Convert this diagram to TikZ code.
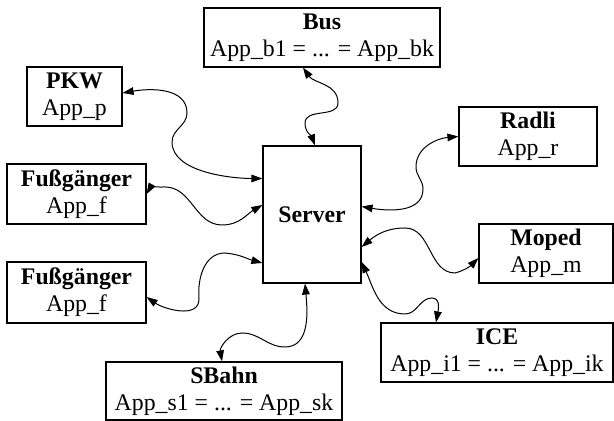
\documentclass[tikz,border=0pt]{standalone}
\usepackage{fontspec}
\setmainfont{Liberation Serif}
\usetikzlibrary{arrows.meta}

\begin{document}
\begin{tikzpicture}[
    x=0.5pt, y=0.5pt,
    box/.style={rectangle, draw, line width=0.6pt, minimum height=29.5pt, inner sep=1pt, align=center, font=\fontsize{11.9}{13.6}\selectfont},
    link/.style={{Triangle[length=5.5pt,width=3.8pt]}-{Triangle[length=5.5pt,width=3.8pt]}, line width=0.5pt}
]
\useasboundingbox (0,0) rectangle (614,421);

\node[box, minimum width=49pt, minimum height=68.5pt] (server) at (312,206.5) {\textbf{Server}};

\node[box, minimum width=118pt] (bus) at (322,383.5) {\textbf{Bus}\\App\_b1 = ... = App\_bk};
\node[box, minimum width=47.5pt] (pkw) at (74.5,324.5) {\textbf{PKW}\\App\_p};
\node[box, minimum width=69pt] (radli) at (528,284.5) {\textbf{Radli}\\App\_r};
\node[box, minimum width=69.5pt, minimum height=30pt] (fuss1) at (76.5,227) {\textbf{Fußgänger}\\App\_f};
\node[box, minimum width=67pt] (moped) at (546,167.5) {\textbf{Moped}\\App\_m};
\node[box, minimum width=69.5pt, minimum height=30.5pt] (fuss2) at (76.5,128.5) {\textbf{Fußgänger}\\App\_f};
\node[box, minimum width=116pt] (ice) at (497,68.5) {\textbf{ICE}\\App\_i1 = ... = App\_ik};
\node[box, minimum width=118pt, minimum height=29pt] (sbahn) at (224,30) {\textbf{SBahn}\\App\_s1 = ... = App\_sk};

% links to the server
\draw[link] ([xshift=-9.5pt]bus.south) to[out=-55,in=90] (338,318) to[out=-90,in=90] (305,298) to[out=-90,in=110] ([xshift=1.5pt]server.north);
\draw[link] ([yshift=1.75pt]pkw.east) to[out=10,in=90] (187,308) to[out=-90,in=90] (172,279) to[out=-90,in=180,looseness=0.8] ([yshift=18pt]server.west);
\draw[link] (fuss1.east) to[out=60,in=180] (165,234) to[out=0,in=180] (222,196) to[out=0,in=210] ([yshift=4.75pt]server.west);
\draw[link] ([yshift=-2.25pt]fuss2.east) to[out=-35,in=-90] (199,122) to[out=95,in=180] (225,168) to[out=-5,in=165] ([yshift=-24.25pt]server.west);
\draw[link] ([xshift=-1pt]sbahn.north) to[out=100,in=180] (242,88) to[out=0,in=180] (285,74) to[out=0,in=-85] ([xshift=-3.5pt]server.south);
\draw[link] (radli.west) to[out=185,in=90] (416,254) to[out=-90,in=90] (423,232) to[out=-90,in=-10] ([yshift=4pt]server.east);
\draw[link] ([yshift=-16.25pt]server.east) to[out=40,in=180] (405,193) to[out=0,in=180] (455,148) to[out=15,in=225] ([yshift=-2.25pt]moped.west);
\draw[link] ([yshift=-23.75pt]server.east) to[out=-65,in=180] (405,107) to[out=0,in=180] (432,123) to[out=0,in=80] ([xshift=-30.5pt]ice.north);

\end{tikzpicture}
\end{document}
